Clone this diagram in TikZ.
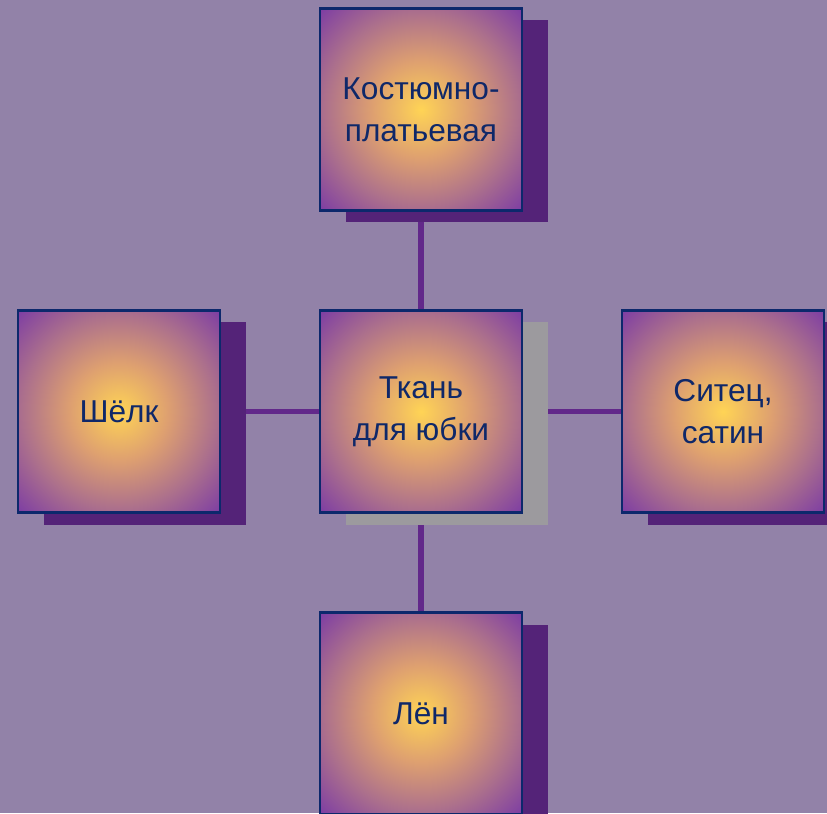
\documentclass[tikz,border=0pt]{standalone}
\usepackage{fontspec}
\setmainfont{Liberation Sans}
\usetikzlibrary{shadows,backgrounds}

\definecolor{wallpaper}{RGB}{146,130,168}
\definecolor{tilecore}{RGB}{255,212,85}
\definecolor{tilewarm}{RGB}{222,160,112}
\definecolor{tilemauve}{RGB}{172,112,140}
\definecolor{tileedge}{RGB}{122,58,165}
\definecolor{tileline}{RGB}{12,40,108}
\definecolor{tileink}{RGB}{15,40,105}
\definecolor{shadowpurple}{RGB}{84,35,120}
\definecolor{shadowgrey}{RGB}{156,154,158}
\definecolor{linkpurple}{RGB}{98,40,138}

\pgfdeclareradialshading{tileglow}{\pgfpoint{0bp}{0bp}}{%
  color(0bp)=(tilecore); color(12bp)=(tilewarm); color(24bp)=(tilemauve);
  color(36bp)=(tileedge); color(50bp)=(tileedge)}

\tikzset{
  tile/.style={draw=tileline, line width=1.5pt, shading=tileglow,
    minimum width=5.05cm, minimum height=5.05cm, inner sep=0pt,
    text=tileink, align=center, font=\fontsize{22.5}{30}\selectfont},
  purpleshadow/.style={drop shadow={shadow xshift=0.65cm, shadow yshift=-0.3cm,
    fill=shadowpurple, opacity=1}},
  greyshadow/.style={drop shadow={shadow xshift=0.65cm, shadow yshift=-0.3cm,
    fill=shadowgrey, opacity=1}},
  link/.style={linkpurple, line width=4pt}
}

\begin{document}
\begin{tikzpicture}
    \useasboundingbox (-10.525,-10.0375) rectangle (10.15,10.2875);
    \node[tile, greyshadow] (fabric) at (0,0) {Ткань\\для юбки};
    \node[tile, purpleshadow] (suit) at (0,7.55) {Костюмно-\\платьевая};
    \node[tile, purpleshadow] (silk) at (-7.55,0) {Шёлк};
    \node[tile, purpleshadow] (chintz) at (7.55,0) {Ситец,\\сатин};
    \node[tile, purpleshadow] (linen) at (0,-7.55) {Лён};
    % links sit under the shadows
    \begin{pgfonlayer}{background}
        \fill[wallpaper] (-10.525,-10.0375) rectangle (10.15,10.2875);
        \draw[link] (fabric) -- (suit);
        \draw[link] (fabric) -- (silk);
        \draw[link] (fabric) -- (chintz);
        \draw[link] (fabric) -- (linen);
    \end{pgfonlayer}
\end{tikzpicture}
\end{document}
